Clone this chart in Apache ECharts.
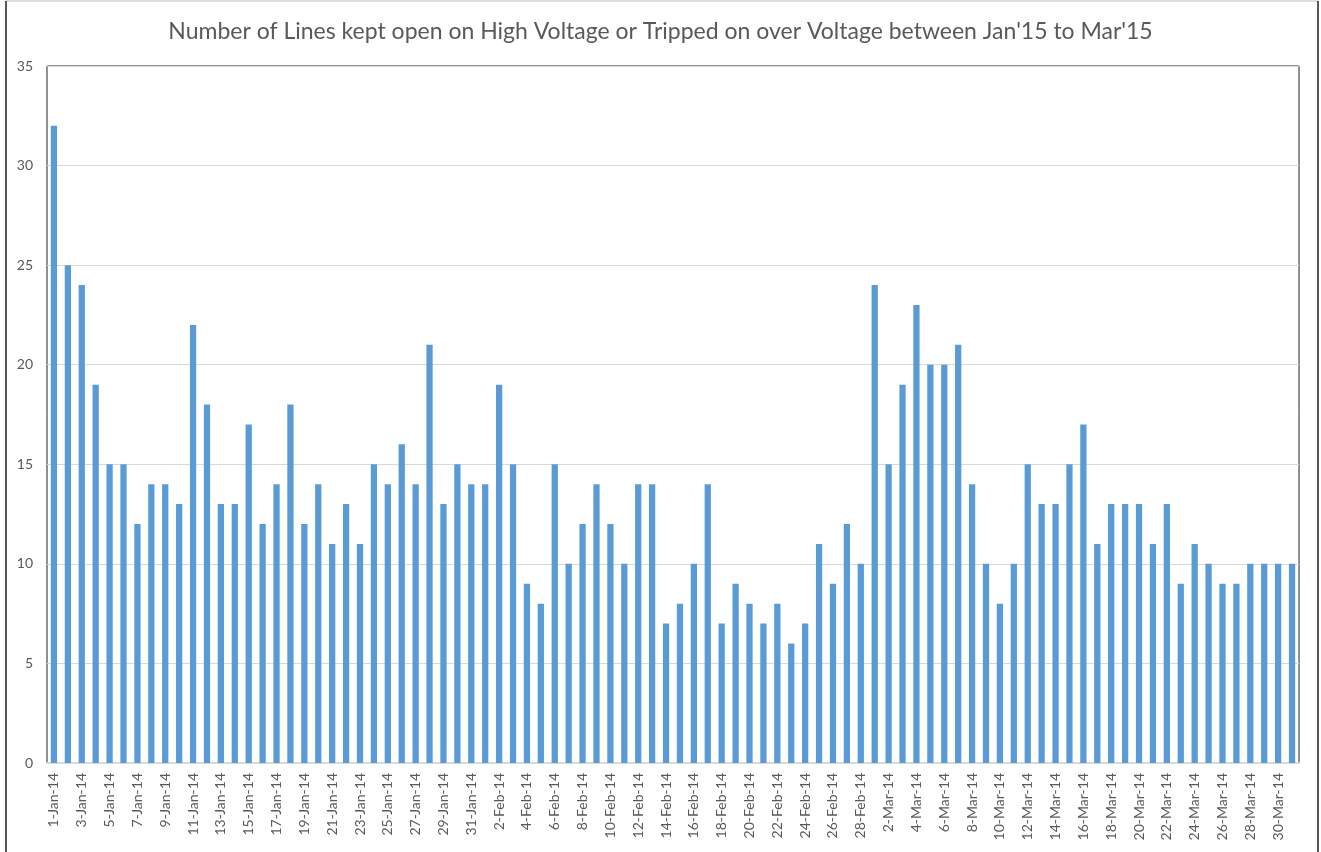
<!DOCTYPE html>
<html>
<head>
<meta charset="utf-8">
<script src="https://cdn.jsdelivr.net/npm/echarts@6/dist/echarts.min.js"></script>
<style>
  html, body { margin: 0; padding: 0; background: #fff; }
  #chart { width: 1321px; height: 852px; }
</style>
</head>
<body>
<div id="chart"></div>
<script>
const months = [['Jan', 31], ['Feb', 28], ['Mar', 31]];
const days = [];
months.forEach(([m, n]) => {
  for (let d = 1; d <= n; d++) days.push(d + '-' + m + '-14');
});

const janCounts = [32, 25, 24, 19, 15, 15, 12, 14, 14, 13, 22, 18, 13, 13, 17, 12, 14, 18, 12, 14, 11, 13, 11, 15, 14, 16, 14, 21, 13, 15, 14];
const febCounts = [14, 19, 15, 9, 8, 15, 10, 12, 14, 12, 10, 14, 14, 7, 8, 10, 14, 7, 9, 8, 7, 8, 6, 7, 11, 9, 12, 10];
const marCounts = [24, 15, 19, 23, 20, 20, 21, 14, 10, 8, 10, 15, 13, 13, 15, 17, 11, 13, 13, 13, 11, 13, 9, 11, 10, 9, 9, 10, 10, 10, 10];
const counts = janCounts.concat(febCounts, marCounts);

const yTicks = [0, 5, 10, 15, 20, 25, 30, 35];

const chart = echarts.init(document.getElementById('chart'));
chart.setOption({
  backgroundColor: '#fff',
  animation: false,
  title: {
    text: "Number of Lines kept open on High Voltage or Tripped on over Voltage between Jan'15 to Mar'15",
    left: 'center',
    top: 15,
    textStyle: {
      fontFamily: 'Lato',
      fontSize: 23,
      fontWeight: 'normal',
      color: '#595959',
    },
  },
  grid: {
    left: 47,
    right: 22,
    top: 66,
    bottom: 89,
    show: true,
    borderColor: '#222',
    borderWidth: 1,
  },
  xAxis: {
    type: 'category',
    data: days,
    axisTick: { show: false },
    axisLine: { lineStyle: { color: '#d9d9d9', width: 2 } },
    axisLabel: {
      interval: 1,
      rotate: 90,
      margin: 10,
      fontFamily: 'Lato',
      fontSize: 14,
      color: '#595959',
    },
  },
  yAxis: {
    type: 'value',
    min: yTicks[0],
    max: yTicks[yTicks.length - 1],
    interval: 5,
    axisLine: { show: false },
    axisTick: { show: false },
    axisLabel: {
      margin: 14,
      fontFamily: 'Lato',
      fontSize: 14,
      color: '#595959',
    },
    splitLine: { lineStyle: { color: '#d9d9d9' } },
  },
  graphic: [
    { type: 'line', shape: { x1: 6, y1: 1, x2: 1318, y2: 1 }, style: { stroke: '#bbb', lineWidth: 1 } },
    { type: 'line', shape: { x1: 6, y1: 1, x2: 6, y2: 852 }, style: { stroke: '#222', lineWidth: 1.5 } },
    { type: 'line', shape: { x1: 1318, y1: 1, x2: 1318, y2: 852 }, style: { stroke: '#222', lineWidth: 1.5 } },
  ],
  series: [
    {
      type: 'bar',
      data: counts,
      barWidth: '45%',
      itemStyle: { color: '#5b9bd5' },
    },
  ],
});
</script>
</body>
</html>
